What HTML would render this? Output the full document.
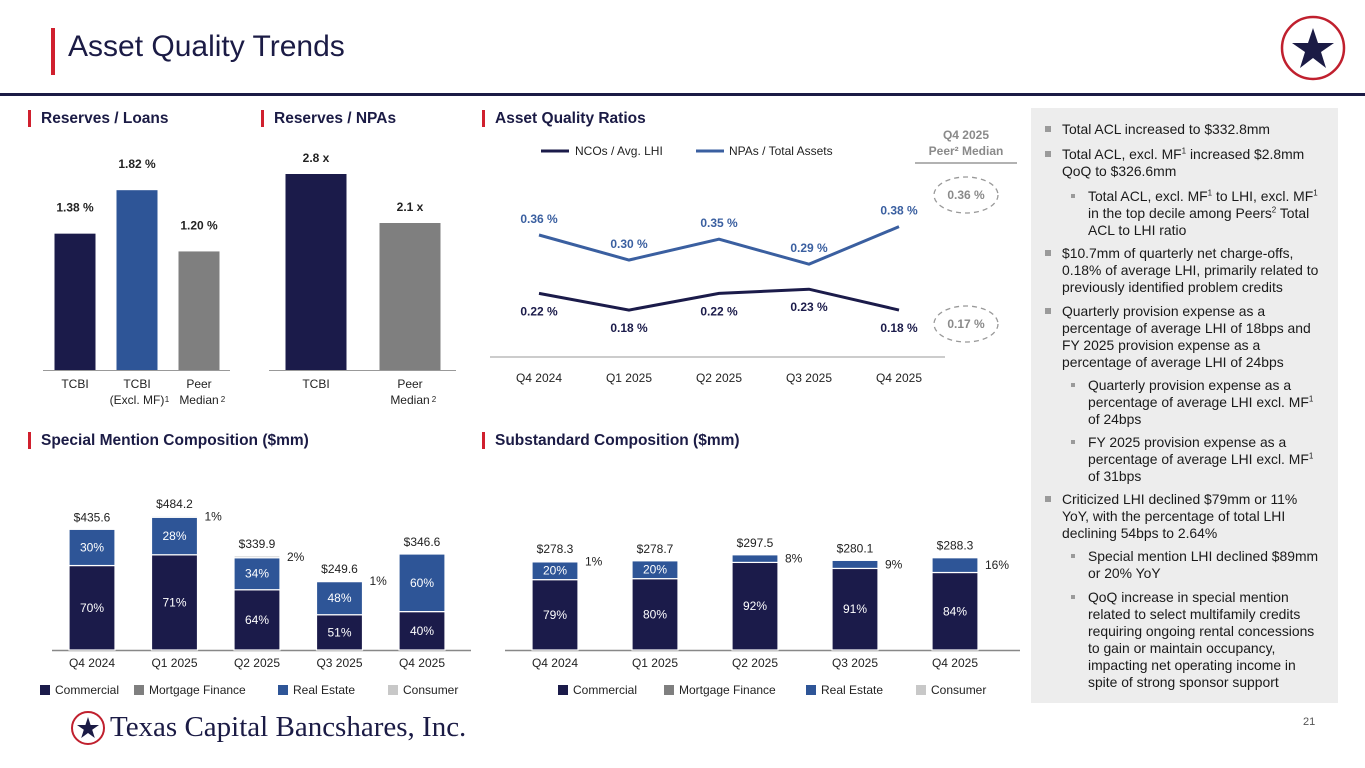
<!DOCTYPE html>
<html><head><meta charset="utf-8"><style>
body{margin:0;width:1365px;height:768px;overflow:hidden;background:#fff;font-family:"Liberation Sans",sans-serif;position:relative}
.a{position:absolute;white-space:nowrap}
.sec{position:absolute;font-weight:bold;font-size:15.5px;color:#1B1B45;padding-left:10px;border-left:3px solid #D0202E;line-height:17px}
.t{position:absolute;font-size:13.9px;color:#1a1a1a;white-space:nowrap;line-height:16px}
.b1::before{content:"";position:absolute;left:-17px;top:5px;width:6px;height:6px;background:#9a9a9a}
.b2::before{content:"";position:absolute;left:-17px;top:6px;width:4px;height:4px;background:#9a9a9a}
sup{font-size:8px;line-height:0}
</style></head><body>
<div class="a" style="left:51px;top:28px;width:4px;height:47px;background:#D0202E"></div>
<div class="a" style="left:68px;top:30px;font-size:30px;color:#1B1B45">Asset Quality Trends</div>
<div class="a" style="left:0;top:93px;width:1365px;height:3px;background:#1B1B45"></div>
<svg class="a" style="left:1280px;top:15px" width="66" height="66" viewBox="0 0 66 66"><circle cx="33" cy="33" r="31" fill="#fff" stroke="#C0202E" stroke-width="2.5"/><polygon points="33,13 38,28 54,28 41,37 46,53 33,43 20,53 25,37 12,28 28,28" fill="#1B1B45"/></svg>

<div class="sec" style="left:28px;top:110px">Reserves / Loans</div>
<div class="sec" style="left:261px;top:110px">Reserves / NPAs</div>
<div class="sec" style="left:482px;top:110px">Asset Quality Ratios</div>
<div class="sec" style="left:28px;top:432px">Special Mention Composition ($mm)</div>
<div class="sec" style="left:482px;top:432px">Substandard Composition ($mm)</div>

<svg id="ch" class="a" style="left:0;top:0" width="1030" height="720" font-family="Liberation Sans, sans-serif"></svg>

<div class="a" style="left:1031px;top:108px;width:307px;height:595px;background:#EDEDED"></div>
<div>
<div class="t b1" style="left:1062px;top:121px">Total ACL increased to $332.8mm</div>
<div class="t b1" style="left:1062px;top:146px">Total ACL, excl. MF<sup>1</sup> increased $2.8mm</div>
<div class="t" style="left:1062px;top:163px">QoQ to $326.6mm</div>
<div class="t b2" style="left:1088px;top:188px">Total ACL, excl. MF<sup>1</sup> to LHI, excl. MF<sup>1</sup></div>
<div class="t" style="left:1088px;top:205px">in the top decile among Peers<sup>2</sup> Total</div>
<div class="t" style="left:1088px;top:222px">ACL to LHI ratio</div>
<div class="t b1" style="left:1062px;top:245px">$10.7mm of quarterly net charge-offs,</div>
<div class="t" style="left:1062px;top:262px">0.18% of average LHI, primarily related to</div>
<div class="t" style="left:1062px;top:279px">previously identified problem credits</div>
<div class="t b1" style="left:1062px;top:303px">Quarterly provision expense as a</div>
<div class="t" style="left:1062px;top:320px">percentage of average LHI of 18bps and</div>
<div class="t" style="left:1062px;top:337px">FY 2025 provision expense as a</div>
<div class="t" style="left:1062px;top:354px">percentage of average LHI of 24bps</div>
<div class="t b2" style="left:1088px;top:377px">Quarterly provision expense as a</div>
<div class="t" style="left:1088px;top:394px">percentage of average LHI excl. MF<sup>1</sup></div>
<div class="t" style="left:1088px;top:411px">of 24bps</div>
<div class="t b2" style="left:1088px;top:434px">FY 2025 provision expense as a</div>
<div class="t" style="left:1088px;top:451px">percentage of average LHI excl. MF<sup>1</sup></div>
<div class="t" style="left:1088px;top:468px">of 31bps</div>
<div class="t b1" style="left:1062px;top:491px">Criticized LHI declined $79mm or 11%</div>
<div class="t" style="left:1062px;top:508px">YoY, with the percentage of total LHI</div>
<div class="t" style="left:1062px;top:525px">declining 54bps to 2.64%</div>
<div class="t b2" style="left:1088px;top:548px">Special mention LHI declined $89mm</div>
<div class="t" style="left:1088px;top:565px">or 20% YoY</div>
<div class="t b2" style="left:1088px;top:589px">QoQ increase in special mention</div>
<div class="t" style="left:1088px;top:606px">related to select multifamily credits</div>
<div class="t" style="left:1088px;top:623px">requiring ongoing rental concessions</div>
<div class="t" style="left:1088px;top:640px">to gain or maintain occupancy,</div>
<div class="t" style="left:1088px;top:657px">impacting net operating income in</div>
<div class="t" style="left:1088px;top:674px">spite of strong sponsor support</div>
</div>

<svg class="a" style="left:70px;top:710px" width="36" height="36" viewBox="0 0 36 36"><circle cx="18" cy="18" r="16" fill="#fff" stroke="#C0202E" stroke-width="2"/><polygon points="18,7 20.6,15 29,15 22.2,19.8 24.8,28 18,23 11.2,28 13.8,19.8 7,15 15.4,15" fill="#1B1B45"/></svg>
<div class="a" style="left:110px;top:711px;font-family:'Liberation Serif',serif;font-size:29px;color:#1B1B45;letter-spacing:0px">Texas Capital Bancshares, Inc.</div>
<div class="a" style="left:1303px;top:716px;font-size:11px;color:#555">21</div>

<script>
const NAVY="#1B1B4A",BLUE="#2E5597",GRAY="#7F7F7F",LG="#C8C8C8",LBLUE="#3A5FA0";
const loansCats=["TCBI","TCBI|(Excl. MF)","Peer|Median"];
const loansVals=[1.38,1.82,1.20];
const loansLabels=["1.38 %","1.82 %","1.20 %"];
const npasCats=["TCBI","Peer|Median"];
const npasVals=[2.8,2.1];
const npasLabels=["2.8 x","2.1 x"];
const qtrs=["Q4 2024","Q1 2025","Q2 2025","Q3 2025","Q4 2025"];
const ncoVals=[0.22,0.18,0.22,0.23,0.18];
const npaVals=[0.36,0.30,0.35,0.29,0.38];
const smTotals=[435.6,484.2,339.9,249.6,346.6];
const smCommercial=[70,71,64,51,40];
const smMortgage=[0,0,0,0,0];
const smRealEstate=[30,28,34,48,60];
const smConsumer=[0,1,2,1,0];
const ssTotals=[278.3,278.7,297.5,280.1,288.3];
const ssCommercial=[79,80,92,91,84];
const ssMortgage=[0,0,0,0,0];
const ssRealEstate=[20,20,8,9,16];
const ssConsumer=[1,0,0,0,0];
const legendNames=["Commercial","Mortgage Finance","Real Estate","Consumer"];

const svg=document.getElementById('ch');const NS="http://www.w3.org/2000/svg";
function mk(tag,at,txt){const e=document.createElementNS(NS,tag);for(const k in at)e.setAttribute(k,at[k]);if(txt!==undefined)e.textContent=txt;svg.appendChild(e);return e;}
function txt(x,y,s,o){return mk('text',Object.assign({x:x,y:y,'font-size':12,'text-anchor':'middle',fill:'#222'},o||{}),s);}

const yL=v=>370-v*98.8;
loansVals.forEach((v,i)=>{const cx=75+i*62;
 const r=mk('rect',{x:cx-20.5,y:yL(v),width:41,height:370-yL(v),fill:[NAVY,BLUE,GRAY][i]});
 
 
 txt(cx,yL(v)-22,loansLabels[i],{'font-weight':'bold'});
 loansCats[i].split('|').forEach((p,j)=>txt(cx,388+j*16,p));});
txt(167,402,"1",{'font-size':8});txt(223,402,"2",{'font-size':8});
mk('line',{x1:43,x2:230,y1:370.5,y2:370.5,stroke:'#999','stroke-width':1});
const yN=v=>370-v*70;
npasVals.forEach((v,i)=>{const cx=316+i*94;
 const r=mk('rect',{x:cx-30.5,y:yN(v),width:61,height:370-yN(v),fill:[NAVY,GRAY][i]});
 
 
 txt(cx,yN(v)-12,npasLabels[i],{'font-weight':'bold'});
 npasCats[i].split('|').forEach((p,j)=>txt(cx,388+j*16,p));});
txt(434,402,"2",{'font-size':8});
mk('line',{x1:269,x2:456,y1:370.5,y2:370.5,stroke:'#999','stroke-width':1});

const xQ=i=>539+i*90, yR=v=>235-(v-0.36)*417;
mk('line',{x1:490,x2:945,y1:357,y2:357,stroke:'#bbb','stroke-width':1.5});
qtrs.forEach((q,i)=>txt(xQ(i),382,q));
const l1=mk('polyline',{points:npaVals.map((v,i)=>xQ(i)+','+yR(v)).join(' '),fill:'none',stroke:LBLUE,'stroke-width':3});


const l2=mk('polyline',{points:ncoVals.map((v,i)=>xQ(i)+','+yR(v)).join(' '),fill:'none',stroke:NAVY,'stroke-width':3});


npaVals.forEach((v,i)=>txt(xQ(i),yR(v)-12,v.toFixed(2)+" %",{'font-weight':'bold',fill:LBLUE}));
ncoVals.forEach((v,i)=>txt(xQ(i),yR(v)+22,v.toFixed(2)+" %",{'font-weight':'bold',fill:NAVY}));
mk('line',{x1:541,x2:569,y1:151,y2:151,stroke:NAVY,'stroke-width':3});
txt(575,155,"NCOs / Avg. LHI",{'text-anchor':'start'});
mk('line',{x1:696,x2:724,y1:151,y2:151,stroke:LBLUE,'stroke-width':3});
txt(729,155,"NPAs / Total Assets",{'text-anchor':'start'});
txt(966,139,"Q4 2025",{'font-weight':'bold',fill:'#8a8a8a'});
txt(966,155,"Peer² Median",{'font-weight':'bold',fill:'#8a8a8a'});
mk('line',{x1:915,x2:1017,y1:163,y2:163,stroke:'#999','stroke-width':1.5});
[["0.36 %",195],["0.17 %",324]].forEach(a=>{mk('ellipse',{cx:966,cy:a[1],rx:32,ry:18,fill:'none',stroke:'#999','stroke-dasharray':'5,4','stroke-width':1.3});txt(966,a[1]+4,a[0],{'font-weight':'bold',fill:'#8a8a8a'});});

function stack(cx0,step,scale,tot,segs,name,axisX1,axisX2){
 const base=650;
 mk('line',{x1:axisX1,x2:axisX2,y1:base+0.5,y2:base+0.5,stroke:'#888','stroke-width':1.5});
 const cols=[NAVY,GRAY,BLUE,LG];
 tot.forEach((t,i)=>{const cx=cx0+i*step;let y=base;const H=t*scale;
  segs.forEach((s,k)=>{const v=s[i];if(!v)return;const h=H*v/100;y-=h;
   const r=mk('rect',{x:cx-23,y:y,width:46,height:h,fill:cols[k],stroke:'#fff','stroke-width':1.2});
   
   
   if(h>=16)txt(cx,y+h/2+4,v+"%",{fill:'#fff','font-size':12});
   else txt(cx+30,y+h/2+4,v+"%",{'text-anchor':'start'});});
  txt(cx,base-H-8,"$"+t.toFixed(1));
  txt(cx,667,qtrs[i]);});
}
stack(92,82.5,0.277,smTotals,[smCommercial,smMortgage,smRealEstate,smConsumer],'special-mention',52,471);
stack(555,100,0.32,ssTotals,[ssCommercial,ssMortgage,ssRealEstate,ssConsumer],'substandard',505,1020);
function legend(xs){const cols=[NAVY,GRAY,BLUE,LG];xs.forEach((x,k)=>{mk('rect',{x:x,y:685,width:10,height:10,fill:cols[k]});txt(x+15,694,legendNames[k],{'text-anchor':'start'});});}
legend([40,134,278,388]);legend([558,664,806,916]);
</script>
</body></html>
